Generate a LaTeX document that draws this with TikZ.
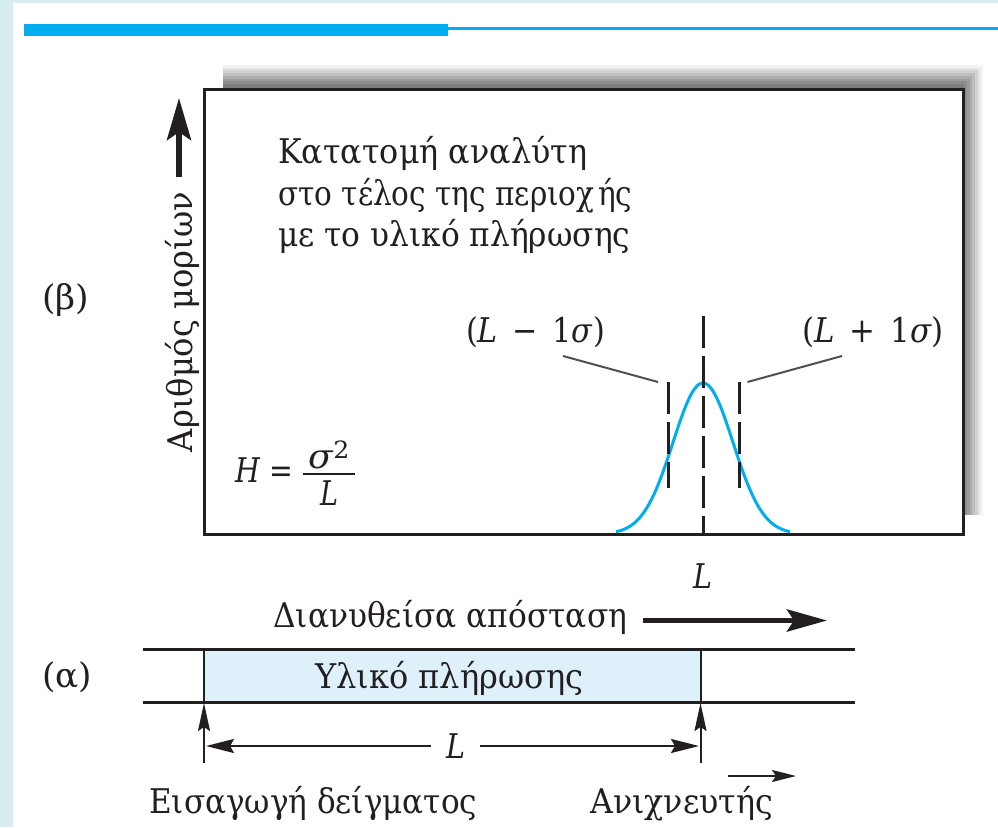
\documentclass[tikz,border=0pt]{standalone}
\usepackage{fontspec}
\setmainfont{DejaVu Serif}
\usetikzlibrary{arrows.meta}
\newcommand\fitw[2]{\resizebox{#1}{\height}{#2}}
\definecolor{barcyan}{RGB}{0,174,239}
\definecolor{framecyan}{RGB}{216,237,239}
\definecolor{fillblue}{RGB}{222,241,251}
\definecolor{boxblack}{RGB}{35,31,32}
\definecolor{leadergray}{RGB}{80,80,80}
\begin{document}
\begin{tikzpicture}[x=1pt,y=-1pt,
  txt/.style={font=\fontsize{34}{40}\selectfont, inner sep=0pt, text=boxblack},
  dashln/.style={draw=boxblack, line width=3pt, dash pattern=on 32pt off 8pt},
  leader/.style={draw=leadergray, line width=2pt},
  gauss/.style={draw=barcyan, line width=3pt},
  yarrow/.style={draw=boxblack, line width=6pt, -{Stealth[length=42pt,width=24pt,inset=8pt]}},
  bigarrow/.style={draw=boxblack, line width=5.5pt, -{Stealth[length=40pt,width=22pt,inset=7pt]}},
  thinarrow/.style={draw=boxblack, line width=2pt, -{Stealth[length=28pt,width=12pt,inset=4pt]}},
  dimarrow/.style={draw=boxblack, line width=2.5pt, -{Stealth[length=28pt,width=14pt,inset=4pt]}},
  smallarrow/.style={draw=boxblack, line width=2pt, -{Stealth[length=24pt,width=12pt,inset=4pt]}},
  tube/.style={draw=boxblack, line width=3pt}
]
\useasboundingbox (0,0) rectangle (998,827);
% background and frame
\fill[white] (0,0) rectangle (998,827);
\fill[framecyan] (0,0) rectangle (13,827);
\fill[framecyan] (0,0) rectangle (998,3.3);
\fill[barcyan] (24,24) rectangle (448,36);
\fill[barcyan] (448,27) rectangle (998,30);

% shadow
\foreach \k/\p in {0/5,1/11,2/18,3/25,4/32,5/39,6/45,7/51}
  \fill[black!\p] ({223},{65+\k*2.7}) rectangle ({983-\k*2.7},{515});

% plot box
\node[draw=boxblack, line width=3pt, fill=white, minimum width=759pt,
      minimum height=445.5pt, inner sep=0pt, anchor=north west] (plot) at (203,87.5) {};

% gaussian
\begin{scope}
  \clip (203,87.5) rectangle (962,533);
  \draw[gauss] plot[domain=-87:87, samples=100, smooth]
     ({703+\x},{534-151*exp(-(\x*\x)/1800)});
\end{scope}

% dashed lines
\coordinate (ctop) at (703,316);
\coordinate (cbot) at (703,533);
\coordinate (ltop) at (668,382);
\coordinate (lbot) at (668,488);
\coordinate (rtop) at (739,382);
\coordinate (rbot) at (739,488);
\draw[dashln] (ctop) -- (cbot);
\draw[dashln] (ltop) -- (lbot);
\draw[dashln] (rtop) -- (rbot);

% leader lines and labels
\node[txt, anchor=base] (lminus) at (535.5,342) {\fitw{139pt}{(\textit{L}\, − \,1\textit{σ})}};
\node[txt, anchor=base] (lplus) at (873,342) {\fitw{142pt}{(\textit{L}\, + \,1\textit{σ})}};
\coordinate (lm1) at (563,356);
\coordinate (lm2) at (658,382);
\coordinate (lp1) at (747.5,382);
\coordinate (lp2) at (842,356);
\draw[leader] (lm1) -- (lm2);
\draw[leader] (lp1) -- (lp2);

% box texts
\node[txt, anchor=base west] (t1) at (278,163) {\fitw{309pt}{Κατατομή αναλύτη}};
\node[txt, anchor=base west] (t2) at (278,205) {\fitw{354pt}{στο τέλος της περιοχ\hspace{4pt}ής}};
\node[txt, anchor=base west] (t3) at (278,246) {\fitw{352pt}{με το υλικό πλήρωσης}};

% H formula
\node[txt, anchor=base west] (hlhs) at (235,482) {\fitw{58pt}{\textit{H} =}};
\node[txt, anchor=base] (hnum) at (329,468) {\fitw{42pt}{\textit{σ}\textsuperscript{2}}};
\node[txt, anchor=base] (hden) at (329,505) {\fitw{18pt}{\textit{L}}};
\coordinate (hb1) at (303,474);
\coordinate (hb2) at (355,474);
\draw[draw=boxblack, line width=2pt] (hb1) -- (hb2);

% y axis
\node[txt, rotate=90, anchor=base] (ylab) at (192,322) {\fitw{260pt}{Αριθμός μορίων}};
\coordinate (ya) at (179,177);
\coordinate (yb) at (179,98);
\draw[yarrow] (ya) -- (yb);

% panel labels
\node[txt] (beta) at (66,300) {\fitw{47pt}{(β)}};
\node[txt] (alpha) at (67,677) {\fitw{50pt}{(α)}};

% lower part
\node[txt, anchor=base] (Ltop) at (703,588) {\fitw{19pt}{\textit{L}}};
\node[txt, anchor=base west] (dist) at (273,627) {\fitw{354pt}{Διανυθείσα απόσταση}};
\coordinate (da) at (643,620.5);
\coordinate (db) at (827,620.5);
\draw[bigarrow] (da) -- (db);

% column
\fill[fillblue] (204,649.5) rectangle (700.5,702);
\coordinate (injtop) at (204,649.5);
\coordinate (injtip) at (204,703);
\coordinate (injbot) at (204,763);
\coordinate (dettop) at (700.5,649.5);
\coordinate (dettip) at (700.5,703);
\coordinate (detbot) at (700.5,763);
\draw[draw=boxblack, line width=2pt] (injtop) -- (injtip);
\draw[draw=boxblack, line width=2pt] (dettop) -- (dettip);
\draw[thinarrow] (injbot) -- (injtip);
\draw[thinarrow] (detbot) -- (dettip);
\coordinate (tl) at (143,649.5);
\coordinate (tr) at (855,649.5);
\coordinate (bl) at (143,702);
\coordinate (br) at (855,702);
\draw[tube] (tl) -- (tr);
\draw[tube] (bl) -- (br);
\node[txt, anchor=base west] (pack) at (315,688) {\fitw{268pt}{Υλικό πλήρωσης}};

% dimension L
\node[txt, minimum width=49pt, anchor=center] (Lmid) at (455.5,746) {\fitw{19pt}{\textit{L}}};
\coordinate (dimL) at (206,746);
\coordinate (dimR) at (699,746);
\draw[dimarrow] (Lmid.west) -- (dimL);
\draw[dimarrow] (Lmid.east) -- (dimR);

% bottom labels
\node[txt, anchor=base west] (inj) at (149,813) {\fitw{328pt}{Εισαγωγή δείγματος}};
\node[txt, anchor=base west] (det) at (590,813) {\fitw{183pt}{Ανιχνευτής}};
\coordinate (sa) at (728,776);
\coordinate (sb) at (796,776);
\draw[smallarrow] (sa) -- (sb);
\end{tikzpicture}
\end{document}
